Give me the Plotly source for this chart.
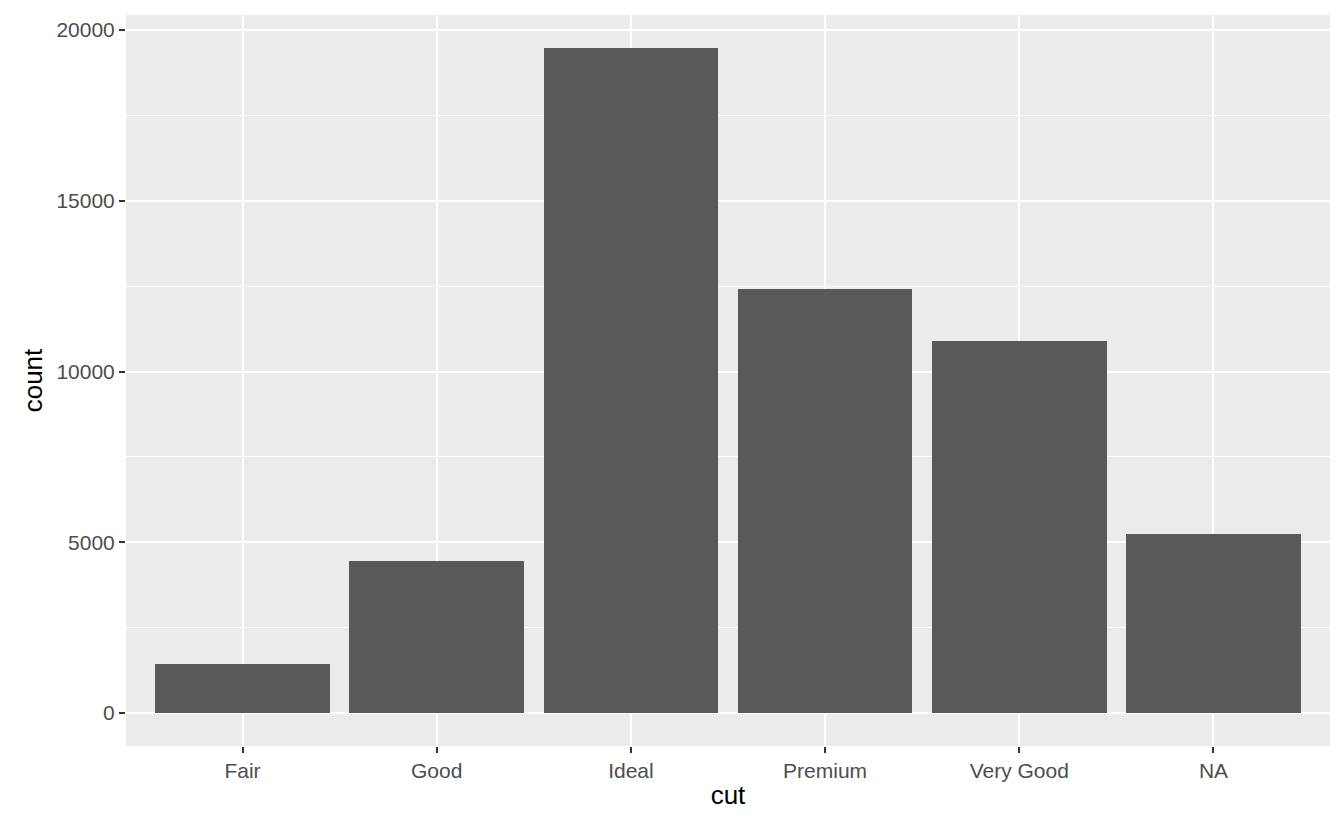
import plotly.graph_objects as go

cuts = ["Fair", "Good", "Ideal", "Premium", "Very Good", "NA"]
counts = [1440, 4450, 19470, 12420, 10890, 5240]

fig = go.Figure(go.Bar(x=list(range(len(cuts))), y=counts, width=0.9,
                       marker=dict(color="#595959", line=dict(width=0))))
fig.update_layout(
    width=1328, height=814, margin=dict(l=118, r=6, t=7, b=76),
    plot_bgcolor="#EBEBEB", paper_bgcolor="white", showlegend=False,
    font=dict(family="Liberation Sans, Arial, sans-serif"),
    bargap=0,
)
fig.update_xaxes(
    tickmode="array", tickvals=list(range(len(cuts))), ticktext=cuts,
    range=[-0.6, 5.6], showgrid=True, gridcolor="white", gridwidth=2,
    ticks="outside", ticklen=6, tickwidth=2, tickcolor="#333333",
    tickfont=dict(size=21, color="#4D4D4D"), zeroline=False,
    title=dict(text="cut", font=dict(size=26, color="black"), standoff=4),
)
fig.update_yaxes(
    range=[-966, 20440], tickvals=[0, 5000, 10000, 15000, 20000], tickformat="d",
    showgrid=True, gridcolor="white", gridwidth=2,
    minor=dict(tickvals=[2500, 7500, 12500, 17500], showgrid=True, gridcolor="white", gridwidth=1, ticks=""),
    ticks="outside", ticklen=6, tickwidth=2, tickcolor="#333333",
    tickfont=dict(size=21, color="#4D4D4D"), zeroline=False,
    title=dict(text="count", font=dict(size=26, color="black"), standoff=6),
)
fig.write_html("out.html")
